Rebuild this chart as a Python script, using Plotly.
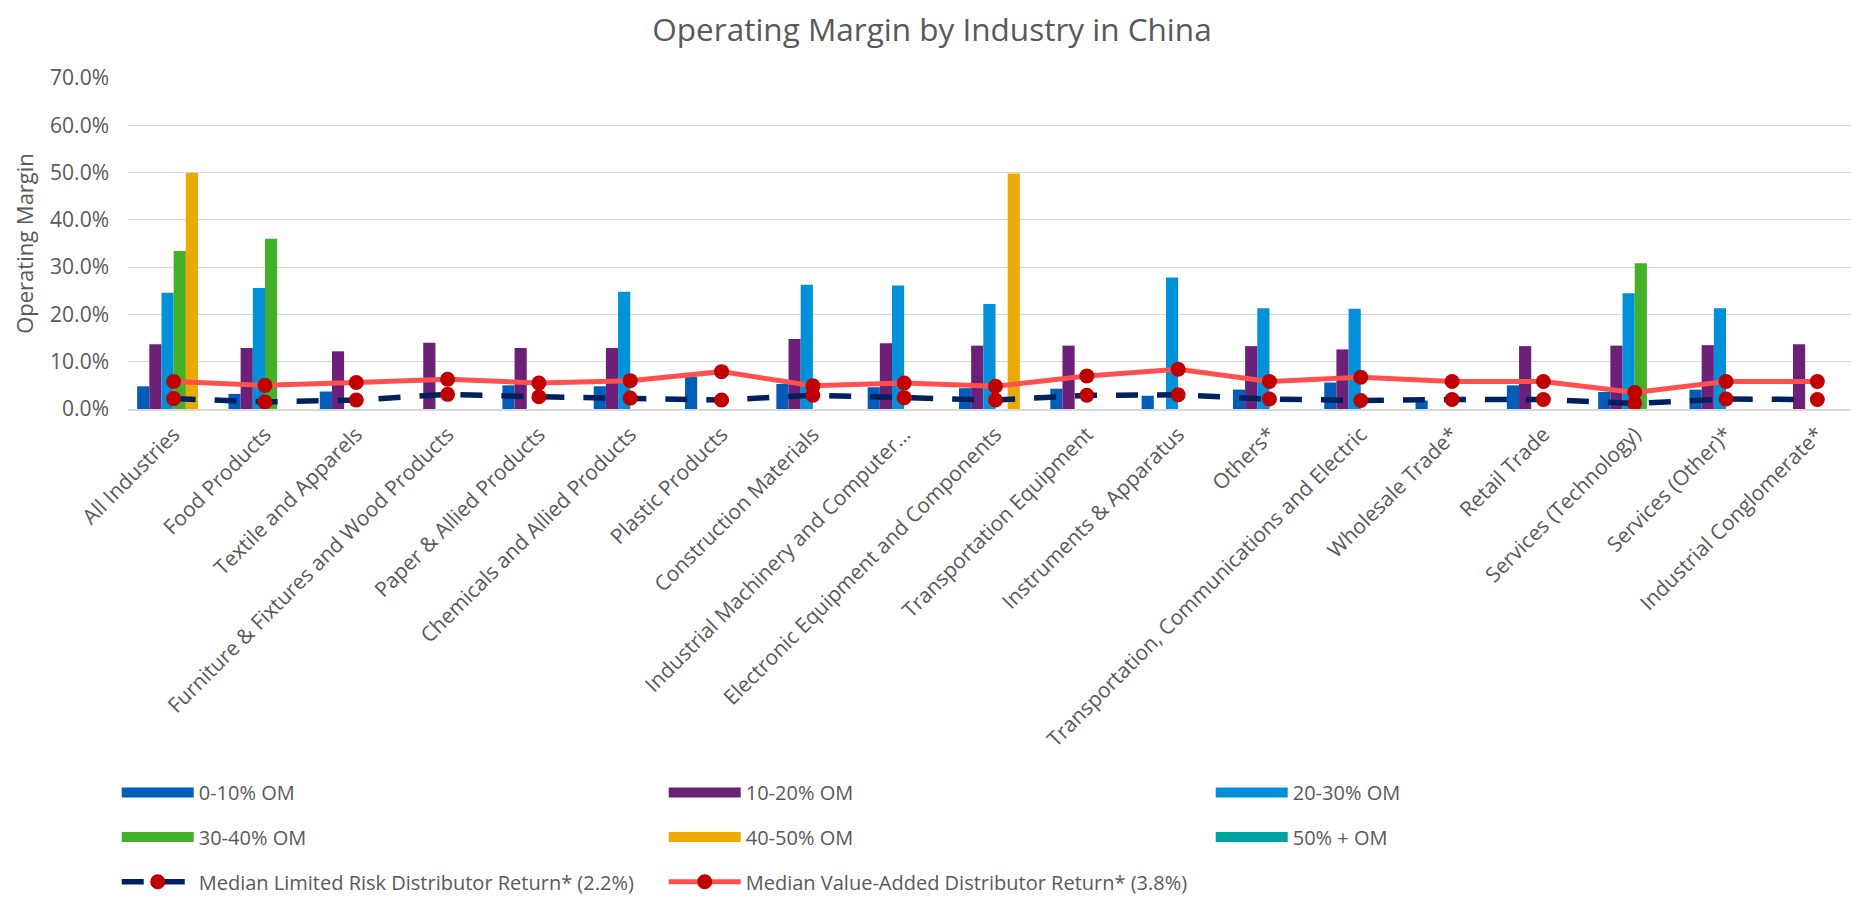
import plotly.graph_objects as go

categories = [
    "All Industries", "Food Products", "Textile and Apparels",
    "Furniture & Fixtures and Wood Products", "Paper & Allied Products",
    "Chemicals and Allied Products", "Plastic Products", "Construction Materials",
    "Industrial Machinery and Computer…", "Electronic Equipment and Components",
    "Transportation Equipment", "Instruments & Apparatus", "Others*",
    "Transportation, Communications and Electric", "Wholesale Trade*",
    "Retail Trade", "Services (Technology)", "Services (Other)*",
    "Industrial Conglomerate*",
]

# operating margin values in percent (None = no bar)
om_0_10 = [4.8, 3.2, 3.7, None, 5.0, 4.8, 6.8, 5.3, 4.6, 4.4, 4.3, 2.8, 4.1, 5.6, 1.8, 5.0, 3.6, 4.1, None]
om_10_20 = [13.7, 12.9, 12.2, 14.0, 12.9, 12.9, None, 14.8, 13.9, 13.4, 13.4, None, 13.3, 12.6, None, 13.3, 13.4, 13.5, 13.7]
om_20_30 = [24.6, 25.6, None, None, None, 24.8, None, 26.3, 26.1, 22.2, None, 27.8, 21.3, 21.2, None, None, 24.5, 21.3, None]
om_30_40 = [33.4, 36.0, None, None, None, None, None, None, None, None, None, None, None, None, None, None, 30.8, None, None]
om_40_50 = [49.9, None, None, None, None, None, None, None, None, 49.8, None, None, None, None, None, None, None, None, None]
om_50_plus = [None] * 19

lrd_return = [2.2, 1.5, 1.9, 3.1, 2.6, 2.3, 1.9, 2.9, 2.4, 1.9, 2.9, 3.0, 2.1, 1.8, 2.0, 2.0, 1.2, 2.1, 2.0]
vad_return = [5.8, 5.0, 5.6, 6.3, 5.5, 6.0, 7.9, 4.9, 5.5, 4.8, 7.0, 8.4, 5.8, 6.7, 5.8, 5.8, 3.5, 5.8, 5.8]

bar_series = [
    ("0-10% OM", om_0_10, "#005EB8", "legend"),
    ("10-20% OM", om_10_20, "#6D2077", "legend"),
    ("20-30% OM", om_20_30, "#0091DA", "legend"),
    ("30-40% OM", om_30_40, "#43B02A", "legend2"),
    ("40-50% OM", om_40_50, "#EAAA00", "legend2"),
    ("50% + OM", om_50_plus, "#00A3A1", "legend2"),
]

TXT = "#595959"
FONT = "Open Sans"

fig = go.Figure()
for name, vals, color, lg in bar_series:
    fig.add_trace(go.Bar(
        x=categories,
        y=[v / 100 if v is not None else None for v in vals],
        name=name,
        marker=dict(color=color, line=dict(width=0)),
        legendgroup=name, showlegend=False,
    ))
    # wide colour swatch for the legend entry of this series
    fig.add_trace(go.Scatter(
        x=[None], y=[None], mode="lines", name=name,
        line=dict(color=color, width=14),
        legendgroup=name, legend=lg, hoverinfo="skip",
    ))

fig.add_trace(go.Scatter(
    x=categories, y=[v / 100 for v in lrd_return],
    name="Median Limited Risk Distributor Return* (2.2%)",
    mode="lines+markers",
    line=dict(color="#002060", width=5.5, dash="22px,19px"),
    marker=dict(color="#C00000", size=15),
    legend="legend3",
))
fig.add_trace(go.Scatter(
    x=categories, y=[v / 100 for v in vad_return],
    name="Median Value-Added Distributor Return* (3.8%)",
    mode="lines+markers",
    line=dict(color="#FF5050", width=5),
    marker=dict(color="#C00000", size=15),
    legend="legend3",
))

# figure coordinates (the page adds an 8px body margin)
plot_top, plot_bot = 70, 404
ph = plot_bot - plot_top


def row_y(py):
    return (plot_bot - py) / ph


legend_common = dict(
    orientation="h", xanchor="left", yanchor="middle",
    font=dict(family=FONT, size=20, color=TXT),
    entrywidth=460, entrywidthmode="pixels",
    bgcolor="rgba(0,0,0,0)", itemwidth=72,
)

fig.update_layout(
    width=1859, height=898,
    margin=dict(l=120, r=4, t=plot_top, b=898 - plot_bot),
    paper_bgcolor="white", plot_bgcolor="white",
    font=dict(family=FONT, color=TXT, size=20),
    title=dict(
        text="Operating Margin by Industry in China",
        x=924 / 1859, xref="container", xanchor="center",
        y=1 - 22 / 898, yref="container", yanchor="middle",
        font=dict(family=FONT, size=31.5, color=TXT),
    ),
    barmode="group", bargap=0.2, bargroupgap=0,
    legend=dict(x=-0.0065, y=row_y(791), **legend_common),
    legend2=dict(x=-0.0065, y=row_y(836), **legend_common),
    legend3=dict(x=-0.0065, y=row_y(881), **legend_common),
    xaxis=dict(
        type="category", range=[-0.5, 18.5],
        tickangle=-45, tickfont=dict(family=FONT, size=21, color=TXT),
        showline=True, linecolor="#D9D9D9", linewidth=1.5,
        showgrid=False, ticks="", automargin=False, ticklabelstandoff=3,
    ),
    yaxis=dict(
        range=[0, 0.7], dtick=0.1, tickformat=".1%",
        tickfont=dict(family=FONT, size=21, color=TXT),
        showgrid=True, gridcolor="#D9D9D9", gridwidth=1.3,
        zeroline=False, showline=False, ticks="",
        ticklabelstandoff=18, automargin=False,
        title=dict(text="Operating Margin", font=dict(family=FONT, size=22, color=TXT), standoff=10),
    ),
)

fig.write_html("out.html")
